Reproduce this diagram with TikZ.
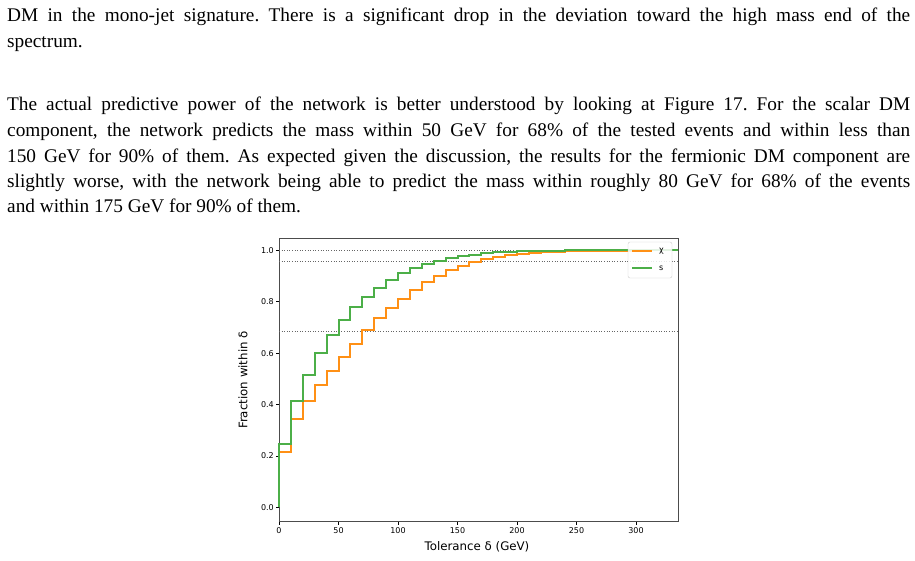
\documentclass[tikz,border=0pt]{standalone}
\usepackage{fontspec}
\setmainfont{Liberation Serif}
\setsansfont{DejaVu Sans}
\begin{document}
\frenchspacing
\begin{tikzpicture}[x=1pt,y=-1pt,
  line/.style={anchor=base west,inner sep=0,font=\fontsize{19.3}{22}\selectfont},
  tick/.style={font=\sffamily\fontsize{8}{9}\selectfont,inner sep=0},
  lab/.style={font=\sffamily\fontsize{11.8}{13}\selectfont,inner sep=0},
  curve/.style={line width=2pt}]
\useasboundingbox (0,0) rectangle (915,560);
\definecolor{cor}{HTML}{FF9015}\definecolor{cgr}{HTML}{4CAF48}
\node[line] (t1) at (7,21) {\makebox[903pt][s]{DM in the mono-jet signature. There is a significant drop in the deviation toward the high mass end of the}};
\node[line] (t2) at (7,47) {spectrum.};
\node[line] (p1) at (7,110) {\makebox[903pt][s]{The actual predictive power of the network is better understood by looking at Figure 17. For the scalar DM}};
\node[line] (p2) at (7,136) {\makebox[903pt][s]{component, the network predicts the mass within 50 GeV for 68\% of the tested events and within less than}};
\node[line] (p3) at (7,162) {\makebox[903pt][s]{150 GeV for 90\% of them. As expected given the discussion, the results for the fermionic DM component are}};
\node[line] (p4) at (7,187) {\makebox[903pt][s]{slightly worse, with the network being able to predict the mass within roughly 80 GeV for 68\% of the events}};
\node[line] (p5) at (7,212) {and within 175 GeV for 90\% of them.};
% plot
\draw[gray!60!black,line width=0.7pt] (279,238) rectangle (678,521);
\begin{scope}[shift={(279,507.3)},x=1.19pt,y=257pt]
 \foreach \v in {1.0,0.955,0.683} \draw[gray!80!black,line width=1pt,dash pattern=on 1pt off 1.6pt] (0,\v) -- (335.3,\v);
 \foreach \v/\l in {0/0.0,0.2/0.2,0.4/0.4,0.6/0.6,0.8/0.8,1/1.0}{
   \draw[line width=0.6pt] (0,\v) -- ++(-3.5pt,0);
   \node[tick,anchor=east] (y\l) at ([xshift=-5pt]0,\v) {\l};}
 \foreach \v in {0,50,100,150,200,250,300}{
   \draw[line width=0.6pt] (\v,-0.0556) -- ++(0,-3.5pt);
   \node[tick,anchor=north] (x\v) at ([yshift=-6pt]\v,-0.0556) {\v};}
 \draw[cor,curve] plot[const plot] coordinates {(0,0) (0,0.215) (10,0.345) (20,0.415) (30,0.475) (40,0.53) (50,0.585) (60,0.635) (70,0.69) (80,0.735) (90,0.775) (100,0.81) (110,0.845) (120,0.875) (130,0.90) (140,0.925) (150,0.94) (160,0.955) (170,0.965) (180,0.975) (190,0.982) (200,0.985) (210,0.99) (220,0.993) (240,0.996) (260,0.998) (300,1.0) (335.3,1.0)};
 \draw[cgr,curve] plot[const plot] coordinates {(0,0) (0,0.245) (10,0.415) (20,0.515) (30,0.60) (40,0.67) (50,0.73) (60,0.78) (70,0.82) (80,0.855) (90,0.885) (100,0.91) (110,0.93) (120,0.945) (130,0.96) (140,0.97) (150,0.977) (160,0.983) (170,0.988) (180,0.992) (190,0.995) (200,0.998) (240,1.0) (335.3,1.0)};
\end{scope}
\node[lab,rotate=90] (yl) at (243,380) {Fraction within δ};
\node[lab] (xl) at (477,547) {Tolerance δ (GeV)};
\draw[gray!40,fill=white,fill opacity=0.85,rounded corners=2pt] (628,242) rectangle (672,278);
\draw[cor,curve] (632,250.5) -- (652,250.5);
\node[tick,anchor=west] (lchi) at (659,251) {χ};
\draw[cgr,curve] (632,267.5) -- (652,267.5);
\node[tick,anchor=west] (ls) at (659,268) {s};
\end{tikzpicture}
\end{document}
